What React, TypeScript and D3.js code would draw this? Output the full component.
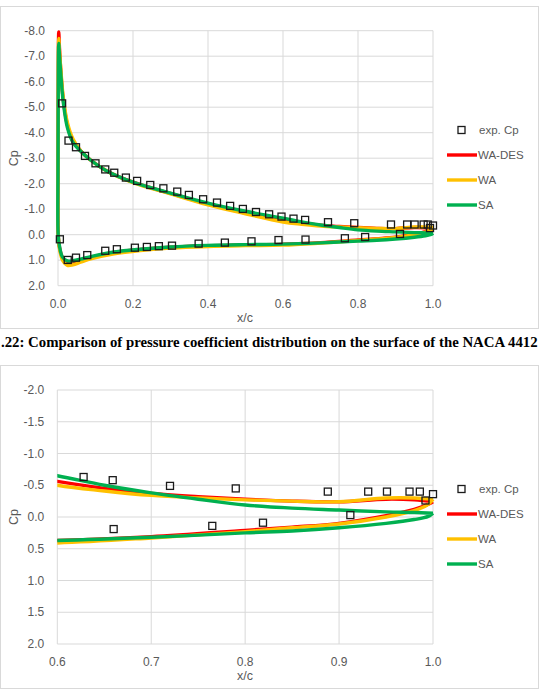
import React from 'react';
import * as d3 from 'd3';

const W = 540;
const H = 690;

// experimental Cp: upper surface LE -> TE, then lower surface LE -> TE
const expX = [
  0.011, 0.028, 0.048, 0.072, 0.1, 0.126, 0.15, 0.181, 0.211, 0.246, 0.281, 0.318, 0.349, 0.387,
  0.424, 0.459, 0.493, 0.528, 0.563, 0.596, 0.628, 0.659, 0.72, 0.79, 0.888, 0.931, 0.951, 0.975,
  0.986, 0.992, 1.0,
  0.005, 0.026, 0.048, 0.078, 0.126, 0.157, 0.205, 0.237, 0.269, 0.304, 0.375, 0.445, 0.516,
  0.588, 0.66, 0.765, 0.819, 0.912,
];
const expCp = [
  -5.15, -3.69, -3.43, -3.09, -2.8, -2.56, -2.43, -2.24, -2.11, -1.95, -1.82, -1.69, -1.56, -1.39,
  -1.26, -1.13, -1.01, -0.89, -0.8, -0.71, -0.63, -0.58, -0.49, -0.45, -0.4, -0.4, -0.4, -0.4,
  -0.4, -0.26, -0.36,
  0.18, 0.99, 0.9, 0.8, 0.63, 0.57, 0.51, 0.48, 0.45, 0.43, 0.35, 0.31, 0.26,
  0.21, 0.19, 0.14, 0.09, -0.03,
];

// CFD loops: TE upper -> LE -> TE lower
const loopX = [
  1.0, 0.98, 0.95, 0.9, 0.85, 0.8, 0.75, 0.7, 0.65, 0.6,
  0.5, 0.4, 0.3, 0.2, 0.13, 0.085, 0.06, 0.04, 0.025, 0.014, 0.008, 0.004, 0.002,
  0.0005, 0, 0.0005,
  0.004, 0.012, 0.025, 0.04, 0.06, 0.09, 0.15, 0.22, 0.3, 0.4, 0.5, 0.6, 0.7, 0.8, 0.85, 0.9,
  0.95, 0.98, 0.995, 1.0,
];
const waDesCp = [
  -0.24, -0.27, -0.28, -0.24, -0.25, -0.28, -0.32, -0.37, -0.45, -0.56,
  -0.85, -1.2, -1.62, -2.06, -2.5, -2.95, -3.3, -3.65, -4.3, -5.3, -6.3, -7.3, -7.95,
  -5, -2.5, 0,
  0.5, 0.9, 1.08, 1.07, 1.0, 0.88, 0.7, 0.58, 0.49, 0.43, 0.4, 0.37, 0.31, 0.21, 0.16, 0.1,
  -0.02, -0.12, -0.2, -0.24,
];
const waCp = [
  -0.28, -0.3, -0.3, -0.24, -0.25, -0.27, -0.3, -0.34, -0.41, -0.5,
  -0.82, -1.17, -1.6, -2.04, -2.5, -2.95, -3.3, -3.75, -4.4, -5.4, -6.4, -7.2, -7.7,
  -5, -2.5, 0,
  0.55, 1.0, 1.2, 1.18, 1.08, 0.94, 0.75, 0.62, 0.52, 0.46, 0.43, 0.41, 0.33, 0.23, 0.17, 0.11,
  0.0, -0.1, -0.2, -0.28,
];
const saCp = [
  -0.06, -0.07, -0.08, -0.11, -0.14, -0.19, -0.28, -0.38, -0.5, -0.65,
  -0.92, -1.24, -1.63, -2.06, -2.5, -2.95, -3.28, -3.62, -4.2, -5.2, -6.2, -7.0, -7.5,
  -5, -2.5, 0,
  0.45, 0.88, 1.03, 1.02, 0.96, 0.85, 0.68, 0.57, 0.48, 0.42, 0.39, 0.37, 0.32, 0.25, 0.22, 0.17,
  0.1, 0.04, -0.01, -0.06,
];

const seriesNames = ['WA-DES', 'WA', 'SA'];
const seriesColors = ['#ff0000', '#ffc000', '#00b050'];
const seriesCp = [waDesCp, waCp, saCp];

const topXTicks = [0, 0.2, 0.4, 0.6, 0.8, 1.0];
const topYTicks = [-8, -7, -6, -5, -4, -3, -2, -1, 0, 1, 2];
const botXTicks = [0.6, 0.7, 0.8, 0.9, 1.0];
const botYTicks = [-2, -1.5, -1, -0.5, 0, 0.5, 1, 1.5, 2];

const caption =
  '.22: Comparison of pressure coefficient distribution on the surface of the NACA 4412';

const FONT = "'Liberation Sans', Arial, sans-serif";
const GRAY = '#595959';
const GRID = '#d9d9d9';

// Excel style: hyphen minus, one decimal
const fmt = (v: number) => d3.format('.1f')(v).replace('\u2212', '-');

type ChartProps = {
  id: string;
  frameTop: number;
  frameBottom: number;
  xDomain: [number, number];
  yDomain: [number, number];
  left: number;
  right: number;
  top: number;
  bottom: number;
  xTicks: number[];
  yTicks: number[];
  legendY: number;
  clipLeft: number;
};

function CpChart(p: ChartProps) {
  const x = d3.scaleLinear().domain(p.xDomain).range([p.left, p.right]);
  const y = d3.scaleLinear().domain(p.yDomain).range([p.top, p.bottom]);
  const line = d3
    .line<[number, number]>()
    .x((d) => x(d[0]))
    .y((d) => y(d[1]))
    .curve(d3.curveCatmullRom.alpha(0.5));

  const pts = expX
    .map((v, i) => [v, expCp[i]] as [number, number])
    .filter((d) => d[0] >= p.xDomain[0] && d[0] <= p.xDomain[1]);

  const legendRows = [0, 1, 2, 3].map((i) => p.legendY + i * 25);

  return (
    <g>
      <defs>
        <clipPath id={p.id}>
          <rect
            x={p.left - p.clipLeft}
            y={p.top - 6}
            width={p.right - p.left + p.clipLeft + 6}
            height={p.bottom - p.top + 12}
          />
        </clipPath>
      </defs>
      <rect
        x={0.5}
        y={p.frameTop + 0.5}
        width={538}
        height={p.frameBottom - p.frameTop}
        fill="#fff"
        stroke={GRID}
      />
      {p.yTicks.map((t) => (
        <line key={'h' + t} x1={p.left} x2={p.right} y1={y(t)} y2={y(t)} stroke={GRID} />
      ))}
      {p.xTicks.map((t) => (
        <line key={'v' + t} x1={x(t)} x2={x(t)} y1={p.top} y2={p.bottom} stroke={GRID} />
      ))}
      {p.yTicks.map((t) => (
        <text
          key={'yl' + t}
          x={p.left - 13}
          y={y(t)}
          dy="0.35em"
          textAnchor="end"
          fontFamily={FONT}
          fontSize={12}
          fill={GRAY}
        >
          {fmt(t)}
        </text>
      ))}
      {p.xTicks.map((t) => (
        <text
          key={'xl' + t}
          x={x(t)}
          y={p.bottom + 22}
          textAnchor="middle"
          fontFamily={FONT}
          fontSize={12}
          fill={GRAY}
        >
          {fmt(t)}
        </text>
      ))}
      <text
        x={245}
        y={p.bottom + 36}
        textAnchor="middle"
        fontFamily={FONT}
        fontSize={12.5}
        fill={GRAY}
      >
        x/c
      </text>
      <text
        transform={`translate(18,${(p.top + p.bottom) / 2}) rotate(-90)`}
        textAnchor="middle"
        fontFamily={FONT}
        fontSize={12.5}
        fill={GRAY}
      >
        Cp
      </text>
      <g clipPath={`url(#${p.id})`}>
        {seriesCp.map((cp, si) => (
          <path
            key={seriesNames[si]}
            d={line(loopX.map((v, i) => [v, cp[i]] as [number, number])) || ''}
            fill="none"
            stroke={seriesColors[si]}
            strokeWidth={3.4}
            strokeLinejoin="round"
          />
        ))}
      </g>
      {pts.map((d, i) => (
        <rect
          key={'e' + i}
          x={x(d[0]) - 3.5}
          y={y(d[1]) - 3.5}
          width={7}
          height={7}
          fill="none"
          stroke="#1a1a1a"
          strokeWidth={1.3}
        />
      ))}
      <rect
        x={458}
        y={legendRows[0] - 3.5}
        width={7}
        height={7}
        fill="none"
        stroke="#1a1a1a"
        strokeWidth={1.3}
      />
      <text x={479} y={legendRows[0]} dy="0.35em" fontFamily={FONT} fontSize={11.5} fill={GRAY}>
        exp. Cp
      </text>
      {seriesNames.map((n, i) => (
        <g key={'lg' + n}>
          <line
            x1={447}
            x2={477}
            y1={legendRows[i + 1]}
            y2={legendRows[i + 1]}
            stroke={seriesColors[i]}
            strokeWidth={3.4}
          />
          <text
            x={478}
            y={legendRows[i + 1]}
            dy="0.35em"
            fontFamily={FONT}
            fontSize={11.5}
            fill={GRAY}
          >
            {n}
          </text>
        </g>
      ))}
    </g>
  );
}

export default function App() {
  return (
    <svg
      width={W}
      height={H}
      viewBox={`0 0 ${W} ${H}`}
      style={{ position: 'absolute', left: 0, top: 0, background: '#fff' }}
    >
      <rect width={W} height={H} fill="#fff" />
      <CpChart
        id="clipTop"
        frameTop={6}
        frameBottom={328}
        xDomain={[0, 1]}
        yDomain={[-8, 2]}
        left={58}
        right={433}
        top={30.7}
        bottom={285.7}
        xTicks={topXTicks}
        yTicks={topYTicks}
        legendY={130}
        clipLeft={4}
      />
      <text
        x={1}
        y={346.5}
        fontFamily="'Liberation Serif', 'Times New Roman', serif"
        fontWeight="bold"
        fontSize={14.8}
        fill="#000"
      >
        {caption}
      </text>
      <CpChart
        id="clipBot"
        frameTop={365}
        frameBottom={688}
        xDomain={[0.6, 1]}
        yDomain={[-2, 2]}
        left={57.3}
        right={433}
        top={390}
        bottom={644}
        xTicks={botXTicks}
        yTicks={botYTicks}
        legendY={489}
        clipLeft={0}
      />
    </svg>
  );
}
